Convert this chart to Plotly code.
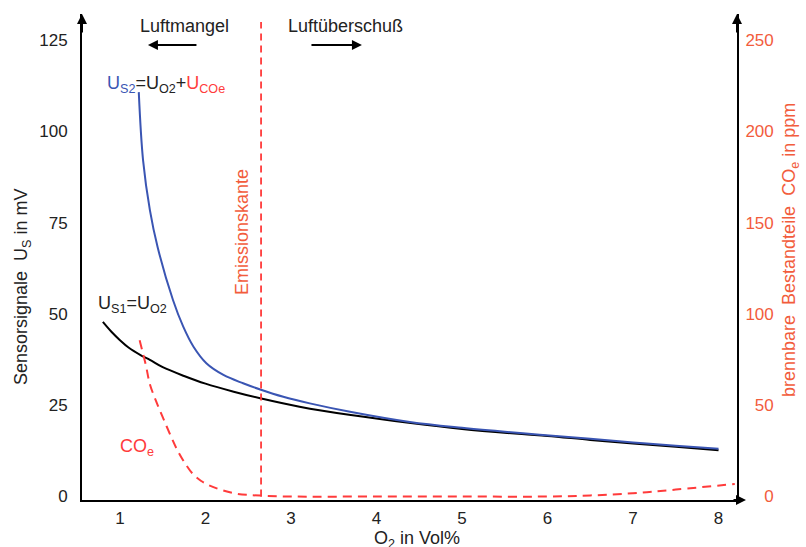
import plotly.graph_objects as go

# ---- data ----
o2_us1 = [0.80, 0.9, 1.0, 1.1, 1.25, 1.35, 1.5, 1.75, 2.0, 2.33, 2.64, 3.1, 3.7, 4.4, 5.0, 5.7, 6.0, 6.5, 7.0, 7.5, 8.0]
us1 = [47.8, 45.1, 42.8, 40.8, 38.6, 37.4, 35.4, 33.0, 30.9, 28.7, 26.9, 24.6, 22.3, 20.1, 18.5, 17.1, 16.6, 15.5, 14.5, 13.6, 12.7]

o2_us2 = [1.22, 1.27, 1.35, 1.44, 1.62, 1.74, 1.86, 2.01, 2.21, 2.44, 2.64, 2.91, 3.22, 3.69, 4.39, 5.0, 5.91, 6.5, 7.0, 7.5, 8.0]
us2 = [110.7, 92.1, 78.4, 68.3, 53.8, 46.5, 41.0, 36.5, 33.3, 31.0, 29.3, 27.3, 25.5, 23.2, 20.4, 18.8, 16.9, 15.8, 14.8, 13.9, 13.1]

o2_co = [1.23, 1.30, 1.35, 1.42, 1.50, 1.60, 1.67, 1.75, 1.85, 1.95, 2.05, 2.2, 2.37, 2.64, 3.0, 4.0, 5.0, 6.0, 6.5, 7.0, 7.5, 8.19]
co_ppm = [85.5, 72.5, 61.5, 52.5, 43.5, 32.5, 25.5, 19, 12.5, 8.5, 6, 3.4, 1.5, 0.5, 0, 0, 0, 0, 0.6, 1.8, 3.8, 6.9]

emission_edge_o2 = 2.65
x_ticks = [1, 2, 3, 4, 5, 6, 7, 8]
y_ticks = [0, 25, 50, 75, 100, 125]
y2_ticks = [0, 50, 100, 150, 200, 250]

BLUE = "#3a55b3"
RED = "#ff3b3b"
SALMON = "#f25c3c"
FONT = "Liberation Sans, Arial, sans-serif"

fig = go.Figure()
fig.add_trace(go.Scatter(x=o2_us1, y=us1, mode="lines", line=dict(color="black", width=2, shape="spline"),
                         showlegend=False, hoverinfo="skip"))
fig.add_trace(go.Scatter(x=o2_us2, y=us2, mode="lines", line=dict(color=BLUE, width=2, shape="spline"),
                         showlegend=False, hoverinfo="skip"))
fig.add_trace(go.Scatter(x=o2_co, y=co_ppm, mode="lines", yaxis="y2",
                         line=dict(color=RED, width=2, dash="9px,6px", shape="spline"),
                         showlegend=False, hoverinfo="skip"))

fig.add_shape(type="line", x0=emission_edge_o2, x1=emission_edge_o2, y0=0, y1=129.9, xref="x", yref="y",
              line=dict(color=RED, width=1.8, dash="7px,5px"))

def fs(t):
    return "\u2007" * (3 - len(t)) + t

fig.update_layout(
    width=806, height=547,
    margin=dict(l=82, r=69, t=14, b=47),
    paper_bgcolor="white", plot_bgcolor="white",
    font=dict(family=FONT, size=17, color="#222"),
    xaxis=dict(range=[0.556, 8.216], tickvals=x_ticks, showgrid=False, zeroline=False,
               showline=True, linecolor="black", linewidth=2, ticks="", ticklabelstandoff=2,
               tickfont=dict(size=17, color="#222")),
    yaxis=dict(range=[-0.95, 132.1], tickvals=y_ticks, showgrid=False, zeroline=False,
               showline=True, linecolor="black", linewidth=2, ticks="", ticklabelstandoff=9,
               tickfont=dict(size=17, color="#222")),
    yaxis2=dict(range=[-1.9, 264.2], tickvals=y2_ticks, ticktext=[fs(str(v)) for v in y2_ticks],
                overlaying="y", side="right", showgrid=False, zeroline=False,
                showline=True, linecolor="black", linewidth=2, ticks="", ticklabelstandoff=3,
                tickfont=dict(size=17, color=SALMON)),
)

ann = []
# axis arrows
ann.append(dict(xref="paper", yref="paper", x=0, y=1, ax=0, ay=20, text="", showarrow=True,
                arrowhead=2, arrowsize=1, arrowwidth=2, arrowcolor="black"))
ann.append(dict(xref="paper", yref="paper", x=1, y=1, ax=0, ay=20, text="", showarrow=True,
                arrowhead=2, arrowsize=1, arrowwidth=2, arrowcolor="black"))
ann.append(dict(xref="paper", yref="paper", x=1 + 9 / 655, y=0, ax=-14, ay=0, text="", showarrow=True,
                arrowhead=2, arrowsize=1, arrowwidth=2, arrowcolor="black"))
# direction arrows
ann.append(dict(xref="x", yref="y", axref="x", ayref="y", x=1.327, y=123.6, ax=1.912, ay=123.6, text="",
                showarrow=True, arrowhead=2, arrowsize=1, arrowwidth=2, arrowcolor="black"))
ann.append(dict(xref="x", yref="y", axref="x", ayref="y", x=3.83, y=123.6, ax=3.222, ay=123.6, text="",
                showarrow=True, arrowhead=2, arrowsize=1, arrowwidth=2, arrowcolor="black"))
# texts
ann.append(dict(xref="x", yref="y", x=1.749, y=128.8, text="Luftmangel", showarrow=False,
                font=dict(size=18, color="#222")))
ann.append(dict(xref="x", yref="y", x=3.643, y=128.8, text="Luftüberschuß", showarrow=False,
                font=dict(size=18, color="#222")))
ann.append(dict(xref="x", yref="y", x=1.538, y=112.8,
                text=f"<span style='color:{BLUE}'>U<sub>S2</sub></span>=U<sub>O2</sub>+<span style='color:{RED}'>U<sub>COe</sub></span>",
                showarrow=False, font=dict(size=18, color="#222")))
ann.append(dict(xref="x", yref="y", x=1.152, y=52.6, text="U<sub>S1</sub>=U<sub>O2</sub>", showarrow=False,
                font=dict(size=18, color="#222")))
ann.append(dict(xref="x", yref="y", x=1.199, y=13.3, text="CO<sub>e</sub>", showarrow=False,
                font=dict(size=18, color=RED)))
ann.append(dict(xref="x", yref="y", x=2.433, y=72.3, text="Emissionskante", textangle=-90, showarrow=False,
                font=dict(size=18, color=SALMON)))
# axis titles
ann.append(dict(xref="paper", yref="paper", x=(417 - 82) / 655, y=-39 / 486, text="O<sub>2</sub> in Vol%",
                xanchor="center", yanchor="middle",
                showarrow=False, font=dict(size=18, color="#222")))
ann.append(dict(xref="paper", yref="paper", x=(22 - 82) / 655, y=(500 - 287) / 486,
                text="Sensorsignale  U<sub>S</sub> in mV", textangle=-90, showarrow=False,
                xanchor="center", yanchor="middle",
                font=dict(size=18, color="#222")))
ann.append(dict(xref="paper", yref="paper", x=(790 - 82) / 655, y=(500 - 250) / 486,
                text="brennbare  Bestandteile  CO<sub>e</sub> in ppm", textangle=-90, showarrow=False,
                xanchor="center", yanchor="middle",
                font=dict(size=18, color=SALMON)))
fig.update_layout(annotations=ann)

fig.write_html("out.html", config={"displayModeBar": False},
               post_script="document.body.style.margin='0';document.body.style.overflow='hidden';")
